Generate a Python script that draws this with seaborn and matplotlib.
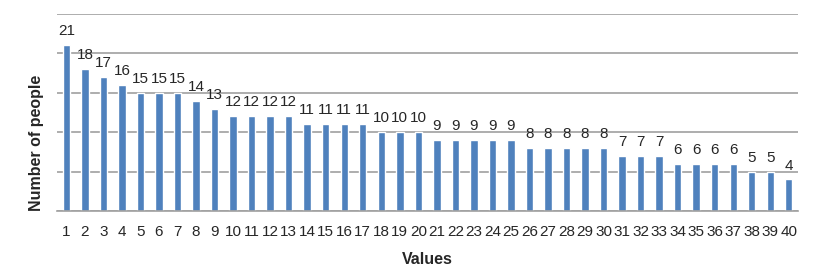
import numpy as np
import pandas as pd
import seaborn as sns
import matplotlib.pyplot as plt
from matplotlib import font_manager

values = [str(i) for i in range(1, 41)]
people = [21, 18, 17, 16, 15, 15, 15, 14, 13, 12, 12, 12, 12, 11, 11, 11, 11,
          10, 10, 10, 9, 9, 9, 9, 9, 8, 8, 8, 8, 8, 7, 7, 7, 6, 6, 6, 6, 5, 5, 4]

df = pd.DataFrame({"Values": values, "people": people})

sns.set_style("white")
names = {f.name for f in font_manager.fontManager.ttflist}
narrow = 'Liberation Sans Narrow' if 'Liberation Sans Narrow' in names else 'Liberation Sans'
plt.rcParams['font.family'] = [narrow, 'DejaVu Sans']
num_size = 11.5 if narrow == 'Liberation Sans Narrow' else 11

fig = plt.figure(figsize=(8.16, 2.78), dpi=100)
ax = fig.add_axes([0.07, 0.241, 0.908, 0.709])

sns.barplot(data=df, x="Values", y="people", color="#4F81BD", width=0.4,
            saturation=1, ax=ax)

ax.set_ylim(0, 25)
ax.set_xlim(-0.5, len(values) - 0.5)
ax.set_yticks(np.arange(0, 26, 5))
ax.yaxis.grid(True, color="#A0A0A0", linewidth=1.2)
ax.set_axisbelow(True)
ax.tick_params(axis='y', left=False, labelleft=False)

for s in ["top", "right", "left"]:
    ax.spines[s].set_visible(False)
ax.spines["bottom"].set_color("#A0A0A0")
ax.spines["bottom"].set_linewidth(1.2)

ax.set_xticks(np.arange(-0.5, len(values), 1), minor=True)
ax.tick_params(axis='x', which='minor', length=5, color="#A0A0A0", width=1.2,
               direction='out')
ax.tick_params(axis='x', which='major', length=0, labelsize=num_size, pad=10)

for c in ax.containers:
    ax.bar_label(c, labels=[str(v) for v in people], padding=5, fontsize=num_size)

ax.set_xlabel("Values", fontsize=11.5, fontweight='bold',
              family=['Liberation Sans', 'DejaVu Sans'])
ax.xaxis.set_label_coords(0.5, -0.21)
ax.set_ylabel("Number of people", fontsize=11.5, fontweight='bold',
              family=['Liberation Sans', 'DejaVu Sans'])
ax.yaxis.set_label_coords(-0.018, 0.345)

fig.savefig("out.png", dpi=100)
